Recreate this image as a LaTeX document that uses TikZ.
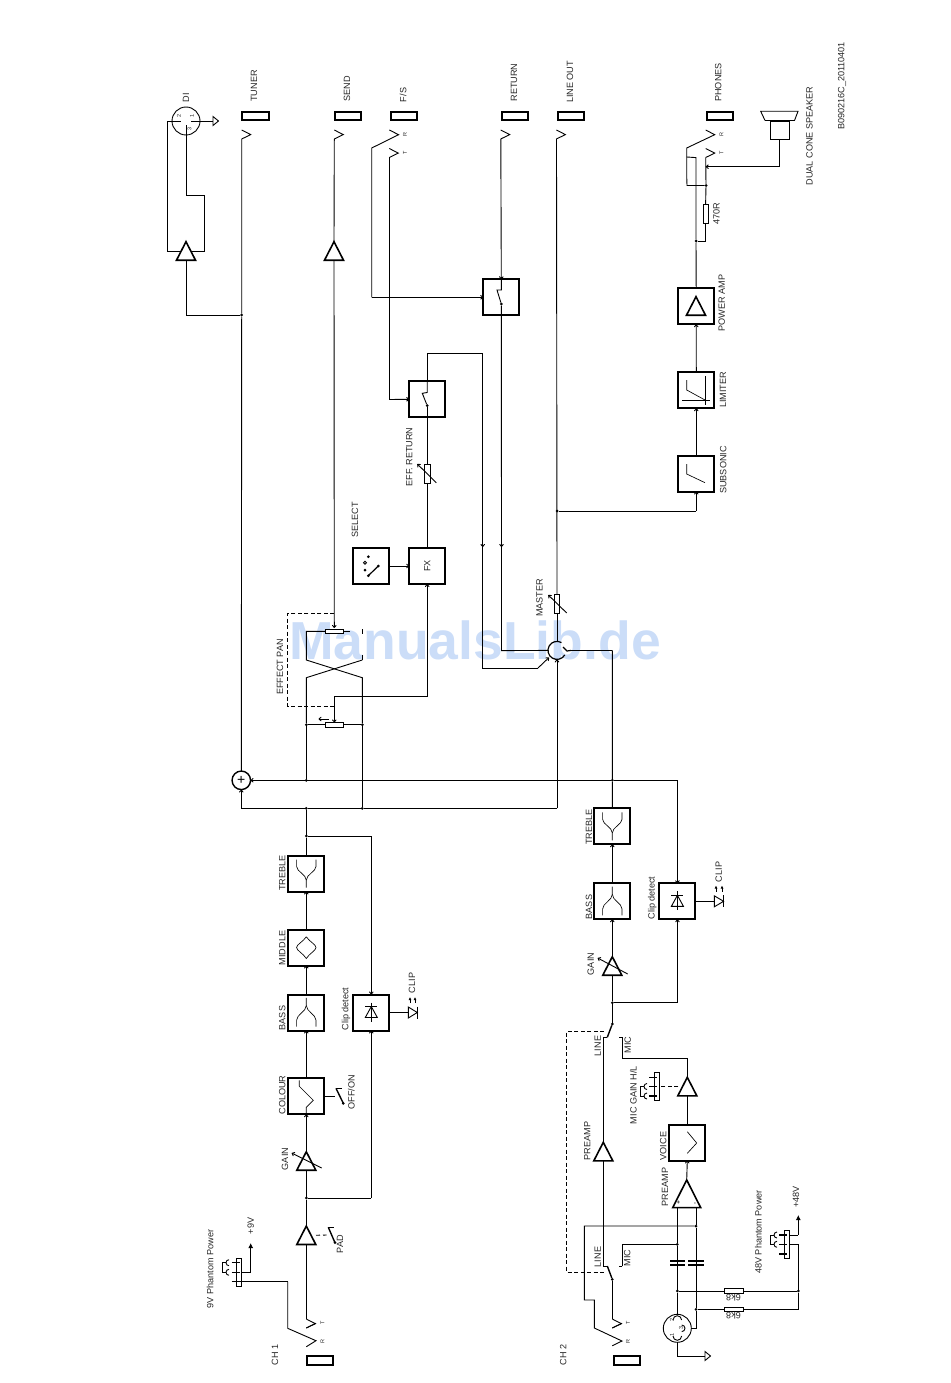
\documentclass[tikz,border=0pt]{standalone}
\usepackage{fontspec}
\setmainfont{Liberation Sans}
\usetikzlibrary{arrows.meta}
\definecolor{markblue}{HTML}{CBDDF8}
\tikzset{
	wire/.style={line width=0.9pt},
	tip/.style={line width=0.9pt, -{To[length=3pt,width=4.5pt]}},
	solid tip/.style={line width=0.9pt, -{Latex[length=5pt,width=5pt]}},
	thin icon/.style={line width=0.65pt},
	lever/.style={line width=1.4pt},
	box/.style={draw, line width=2pt, minimum size=36pt, inner sep=0pt, outer sep=0pt},
	socket/.style={draw, line width=2pt, minimum width=26.5pt, minimum height=8.5pt, inner sep=0pt, outer sep=0pt},
	ampbase/.style={minimum width=19pt, minimum height=18.5pt, inner sep=0pt, outer sep=0pt},
	vpot/.style={draw, line width=0.7pt, fill=white, minimum width=5.4pt, minimum height=19pt, inner sep=0pt, outer sep=0pt},
	hpot/.style={draw, line width=0.7pt, fill=white, minimum width=18.7pt, minimum height=4.6pt, inner sep=0pt, outer sep=0pt},
	strip/.style={draw, line width=0.7pt, fill=white, minimum width=5.2pt, minimum height=27.7pt, inner sep=0pt, outer sep=0pt},
	dot/.style={circle, fill=black, minimum size=3pt, inner sep=0pt, outer sep=0pt},
	ring/.style={circle, draw, line width=1.4pt, minimum size=18.5pt, inner sep=0pt, outer sep=0pt},
	txt/.style={font=\fontsize{9.1}{10}\selectfont, inner sep=0pt, text=black!85},
	lab/.style={txt, rotate=90},
	mini/.style={font=\fontsize{5.5}{6}\selectfont, inner sep=0pt, rotate=90, text=black!85}
}
\newcommand{\ampnode}[3]{
	\node [ampbase] (#1) at (#2,#3+9.25) {};
	\draw [line width=1.6pt, line join=miter] (#1.north) -- (#1.south west) -- (#1.south east) -- cycle;
}
\newcommand{\jack}[2]{
	\draw [wire] (#1,#2) -- (#1+9,#2+4.6) -- (#1,#2+9);
}
\newcommand{\hiicon}[1]{
	\draw [thin icon, shift={(#1.center)}] (-9.7,-14) -- (-9.7,-7) .. controls (-9.7,-2) and (0,1) .. (0,6.7) -- (0,14);
	\draw [thin icon, shift={(#1.center)}] (9.7,-14) -- (9.7,-7) .. controls (9.7,-2) and (0,1) .. (0,6.7);
}
\newcommand{\loicon}[1]{
	\draw [thin icon, shift={(#1.center)}] (0,-14.7) -- (0,-7) .. controls (0,-1) and (-9.7,2) .. (-9.7,7.7) -- (-9.7,14);
	\draw [thin icon, shift={(#1.center)}] (0,-7) .. controls (0,-1) and (9.7,2) .. (9.7,7.7) -- (9.7,14);
}
\newcommand{\diode}[1]{
	\draw [wire, shift={(#1.center)}] (0,-10) -- (0,9);
	\draw [wire, shift={(#1.center)}] (-6,-6) -- (6,-6);
	\draw [wire, shift={(#1.center)}] (0,-6) -- (-6,5) -- (6,5) -- cycle;
}
\newcommand{\hookcup}[2]{
	\draw [wire] (#1+3,#2-3) arc (270:90:3);
}
\begin{document}
\begin{tikzpicture}[x=1pt,y=-1pt]
		\useasboundingbox (0,0) rectangle (950,1383);

		\node [text=markblue, font=\fontsize{53.5}{54}\selectfont\bfseries, inner sep=0pt] (mark) at (475,640) {ManualsLib.de};

		\node [socket] (tuner) at (255.5,116) {};
		\node [socket] (send) at (347.8,116) {};
		\node [socket] (fs) at (403.8,116) {};
		\node [socket] (return) at (515,116) {};
		\node [socket] (lineout) at (571.2,116) {};
		\node [socket] (phones) at (720,116) {};
		\node [socket] (ch1) at (320,1360.3) {};
		\node [socket] (ch2) at (627,1360.3) {};

		\jack{241.7}{130}
		\jack{334.3}{130}
		\jack{389.3}{148.5}
		\jack{500.7}{130}
		\jack{556.4}{130}
		\jack{705.7}{148.5}
		\jack{306.3}{1319}
		\jack{612.3}{1319}

		\node [box] (retsw) at (501.3,297.3) {};
		\node [box] (effsw) at (427.2,399.3) {};
		\node [box] (fx) at (427.2,566) {};
		\node [box] (select) at (371.3,566) {};
		\node [box] (power) at (696.2,306.3) {};
		\node [box] (limiter) at (696.3,390.3) {};
		\node [box] (subsonic) at (696.3,473.6) {};
		\node [box] (trebleone) at (306.3,873.5) {};
		\node [box] (middle) at (306.3,947.5) {};
		\node [box] (bassone) at (306.3,1012.5) {};
		\node [box] (colour) at (306.3,1096.3) {};
		\node [box] (clipone) at (371.3,1012.5) {};
		\node [box] (trebletwo) at (612.3,826.3) {};
		\node [box] (basstwo) at (612.3,901.3) {};
		\node [box] (cliptwo) at (677.4,901.3) {};
		\node [box] (voice) at (687.3,1142.5) {};

		\ampnode{diamp}{186}{241.7}
		\ampnode{sendamp}{334}{241.7}
		\ampnode{poweramp}{696}{296.7}
		\ampnode{gainone}{306.3}{1151.7}
		\ampnode{padamp}{306.3}{1226}
		\ampnode{gaintwo}{612.3}{956.7}
		\ampnode{preline}{603.3}{1142.3}
		\ampnode{micamp}{687.3}{1077.3}
		\node [ampbase, minimum width=28pt, minimum height=27.7pt] (premic) at (686.7,1193.8) {};
		\draw [line width=1.6pt] (premic.north) -- (premic.south west) -- (premic.south east) -- cycle;

		\node [ring] (sum) at (241.3,780.3) {};
		\node [inner sep=0pt, minimum size=18pt, outer sep=0pt] (mix) at (557,650.4) {};
		\node [circle, draw, line width=0.9pt, minimum size=28pt, inner sep=0pt, outer sep=0pt] (di) at (186,121) {};
		\node [circle, draw, line width=0.9pt, minimum size=28pt, inner sep=0pt, outer sep=0pt] (xlr) at (677.3,1328.3) {};

		\node [dot] (taptuner) at (241.7,315) {};
		\node [dot] (tapj) at (696,241) {};
		\node [dot] (tapk) at (706,185.5) {};
		\node [dot] (tapsub) at (557,511) {};
		\node [dot] (tapclip) at (306.3,836) {};
		\node [dot] (tapgain) at (306.3,1198) {};
		\node [dot] (busa) at (306.3,780.3) {};
		\node [dot] (busb) at (612.4,780.3) {};
		\node [dot] (busc) at (306.3,808.3) {};
		\node [dot] (busd) at (362.3,808.3) {};
		\node [dot] (pana) at (306.3,724.7) {};
		\node [dot] (panb) at (362.3,724.7) {};
		\node [dot] (tapclipb) at (612.3,1002.7) {};
		\node [dot] (hot) at (677.3,1244.3) {};
		\node [dot] (cold) at (696,1226) {};
		\node [dot] (feeda) at (677.3,1291) {};
		\node [dot] (feedb) at (696,1309.3) {};
		\node [dot] (feedc) at (798.3,1291) {};
		\node [dot] (swret) at (501.3,304) {};
		\node [dot] (sweff) at (427.2,405.7) {};
		\node [dot] (swgain) at (612.3,1024) {};
		\node [dot] (swin) at (612.3,1279.3) {};

		\node [vpot] (master) at (557,604) {};
		\node [vpot] (effpot) at (427.2,473.8) {};
		\node [vpot] (phpot) at (705.6,213.8) {};
		\node [hpot] (panpot) at (334.3,724.7) {};
		\node [hpot] (pantop) at (334.3,631.3) {};
		\node [hpot] (sixa) at (733.5,1291) {};
		\node [hpot] (sixb) at (733.5,1309.3) {};
		\node [strip] (contone) at (239,1272.2) {};
		\node [strip] (conttwo) at (656.8,1086.5) {};
		\node [strip] (contthree) at (786.8,1244.5) {};

		\draw [wire] (241.7,139) -- (taptuner) -- (sum.north);
		\draw [wire] (taptuner) -- (186,315) -- (diamp.south);
		\draw [wire] (diamp.north) ++(0,9.3) ++(-6,0) -- (167,251) -- (167,121) -- (181,121);
		\draw [wire] (diamp.north) ++(0,9.3) ++(5,0) -- (204,251) -- (204,195) -- (186,195) -- (186,125);
		\draw [wire] (191,121) -- (213,121);
		\draw [wire] (213,116.5) -- (218.5,121) -- (213,125.5) -- cycle;
		\node [mini] (pintwo) at (179,116) {2};
		\node [mini] (pinone) at (192,116) {1};
		\node [mini] (pinthree) at (189.5,129) {3};

		\draw [wire] (334.3,139) -- (sendamp.north);
		\draw [tip] (sendamp.south) -- (334.3,628);

		\draw [wire] (389.3,130) -- (398.6,134.7) -- (371.7,148) -- (371.7,297.3);
		\draw [tip] (371.7,297.3) -- (retsw.west);
		\draw [wire] (389.3,157.5) -- (389.3,399.5);
		\draw [tip] (389.3,399.5) -- (effsw.west);

		\draw [tip] (500.8,139) -- (retsw.north);
		\draw [wire] (retsw.north) -- (501.3,290) -- (497,290) -- (swret);
		\draw [wire] (swret) -- (501.5,547);
		\draw [tip] (501.5,535) -- (501.5,547);
		\draw [wire] (501.5,547) -- (501.5,650.6) -- (mix.west);

		\draw [wire] (effsw.north) -- (427.2,392.5) -- (422.3,393.3) -- (sweff);
		\draw [wire] (effsw.north) -- (427.2,353.3) -- (482.7,353.3) -- (482.7,547);
		\draw [tip] (482.7,535) -- (482.7,547);
		\draw [wire] (482.7,547) -- (482.7,668) -- (538,668);
		\draw [tip] (538,668) -- (549,657.5);

		\draw [wire] (sweff) -- (effpot.north);
		\draw [wire] (effpot.south) -- (fx.north);
		\draw [tip] (436.3,482.7) -- (417.3,464);
		\draw [tip] (select.east) -- (fx.west);
		\draw [tip] (427.2,696.7) -- (fx.south);
		\draw [wire] (334.3,696.7) -- (427.2,696.7);
		\draw [tip] (334.3,696.7) -- (panpot.north);

		\draw [wire] (pana) -- (panpot.west);
		\draw [wire] (panb) -- (panpot.east);
		\draw [tip] (328.5,719) -- (318.5,719);
		\draw [wire] (pantop.west) -- (306.3,631.3) -- (306.3,660) -- (362.3,677.7) -- (panb);
		\draw [wire] (362.3,660) -- (306.3,677.7) -- (pana);
		\draw [wire] (pana) -- (busa);
		\draw [wire] (panb) -- (busd);
		\draw [wire] (362.3,660) -- (362.3,655);
		\draw [wire] (362.3,629) -- (362.3,634);
		\draw [wire] (344,631.3) -- (350,631.3);
		\draw [wire, dashed, dash pattern=on 4pt off 2.5pt] (334.3,613.3) -- (287.7,613.3) -- (287.7,706.3) -- (334.3,706.3);

		\draw [tip] (busb) -- (sum.east);
		\draw [wire] (busa) -- (sum.east);
		\draw [wire] (busb) -- (677.4,780.3);
		\draw [tip] (677.4,780.3) -- (cliptwo.north);
		\draw [wire] (busc) -- (241.3,808.3);
		\draw [tip] (241.3,808.3) -- (sum.south);
		\draw [wire] (busc) -- (busd) -- (557,808.3);
		\draw [tip] (557,808.3) -- (mix.south);
		\draw [wire] (busc) -- (tapclip) -- (trebleone.north);

		\draw [line width=1.2pt, shift={(mix.center)}] (300:9) arc (300:30:9);
		\draw [line width=1.2pt] (563,647) -- (567,651) -- (571,650.4);
		\draw [wire] (571,650.4) -- (612.4,650.4);
		\draw [wire] (556.5,139) -- (master.north);
		\draw [wire] (master.south) -- (mix.north);
		\draw [tip] (566.7,613) -- (548.3,595);
		\draw [wire] (612.4,650.4) -- (busb) -- (trebletwo.north);

		\draw [wire] (tapsub) -- (696.3,511);
		\draw [tip] (696.3,511) -- (subsonic.south);
		\draw [tip] (subsonic.north) -- (limiter.south);
		\draw [tip] (limiter.north) -- (power.south);
		\draw [wire] (power.north) -- (tapj);
		\draw [wire] (tapj) -- (696,157.6) -- (686.7,157);
		\draw [wire] (tapj) -- (705.6,241) -- (phpot.south);
		\draw [wire] (phpot.north) -- (tapk);
		\draw [wire] (tapk) -- (705.7,157.5);
		\draw [wire] (705.7,130) -- (714.7,134.7) -- (686.7,148) -- (686.7,176) -- (687,185.5) -- (tapk);
		\node [draw, wire, minimum width=19pt, minimum height=18.3pt, inner sep=0pt, outer sep=0pt] (coil) at (779.8,130.2) {};
		\draw [line width=1.6pt] (765,120.5) -- (794.5,120.5);
		\draw [wire] (765,120.5) -- (760.7,111.3) -- (798,111.3) -- (794.5,120.5);
		\draw [wire] (coil.south) -- (779.8,166.7);
		\draw [tip] (779.8,166.7) -- (705.7,166.7);

		\draw [thin icon] (686.7,464) -- (686.7,474) -- (705,482.7);
		\draw [thin icon] (686.7,380) -- (686.7,390) -- (705,400);
		\draw [thin icon] (705.7,376) -- (705.7,405);
		\draw [thin icon] (682.3,400) -- (710,400);
		\draw [line width=1.2pt] (368.3,575.7) -- (378.3,566);
		\node [dot] (selone) at (368.3,575.7) {};
		\node [dot] (seltwo) at (378.3,566) {};
		\node [dot] (selthree) at (365,570) {};
		\node [dot, fill=none, draw, wire] (selfour) at (365,562.7) {};
		\node [dot] (selfive) at (368.3,556.7) {};

		\draw [tip] (colour.north) -- (bassone.south);
		\draw [tip] (bassone.north) -- (middle.south);
		\draw [tip] (middle.north) -- (trebleone.south);
		\draw [tip] (gainone.north) -- (colour.south);
		\draw [wire] (tapgain) -- (gainone.south);
		\draw [wire] (padamp.north) -- (tapgain);
		\draw [wire] (tapgain) -- (371.3,1198);
		\draw [tip] (371.3,1198) -- (clipone.south);
		\draw [wire] (tapclip) -- (371.3,836);
		\draw [tip] (371.3,836) -- (clipone.north);
		\draw [wire] (padamp.south) -- (306.3,1319);
		\draw [wire] (306.3,1328) -- (316,1323.3);

		\hiicon{trebleone}
		\loicon{bassone}
		\loicon{basstwo}
		\hiicon{trebletwo}
		\draw [thin icon, shift={(middle.center)}] (0,-10.7) .. controls (-3,-6) and (-9.7,-3) .. (-9.7,0) .. controls (-9.7,3) and (-3,6) .. (0,11) .. controls (3,6) and (9.7,3) .. (9.7,0) .. controls (9.7,-3) and (3,-6) .. (0,-10.7);
		\draw [thin icon, shift={(colour.center)}] (-7,-16) -- (-7,-10) -- (7,4) -- (0,11) -- (0,17);
		\draw [thin icon, shift={(voice.center)}] (0,-10.8) -- (9.4,0.5) -- (0,10.8);
		\diode{clipone}
		\diode{cliptwo}

		\draw [wire] (clipone.east) -- (408.3,1012.5);
		\draw [wire] (408.3,1007) -- (417.3,1012.5) -- (408.3,1018) -- cycle;
		\draw [line width=1.1pt] (417.3,1006.5) -- (417.3,1018.5);
		\draw [solid tip, -{Latex[length=3pt,width=3pt]}] (410,1003) -- (410,997);
		\draw [solid tip, -{Latex[length=3pt,width=3pt]}] (415,1003) -- (415,997);

		\draw [wire] (cliptwo.east) -- (714.3,901.3);
		\draw [wire] (714.3,895.8) -- (723.6,901.3) -- (714.3,906.8) -- cycle;
		\draw [line width=1.1pt] (723.6,895.3) -- (723.6,907.3);
		\draw [solid tip, -{Latex[length=3pt,width=3pt]}] (716,891.7) -- (716,885.5);
		\draw [solid tip, -{Latex[length=3pt,width=3pt]}] (722,891.7) -- (722,885.5);

		\draw [wire] (325,1096) -- (335,1096);
		\draw [lever] (336,1088.3) -- (343.3,1103.3);
		\draw [wire] (336,1088.3) -- (342,1088.3);
		\node [dot] (offon) at (343.3,1103.3) {};

		\draw [wire, dashed, dash pattern=on 4pt off 3pt] (padamp.center) ++(9.7,0) -- (326.7,1235);
		\draw [lever] (328.3,1227.3) -- (335,1242.7);
		\draw [wire] (328.3,1227.3) -- (334.3,1227.3);
		\node [dot] (padsw) at (335,1242.7) {};

		\draw [tip] (321.7,1168) -- (291.7,1153);
		\draw [tip] (627.7,974) -- (597.7,958);

		\draw [wire] (287.7,1281.7) -- (287.7,1328.3) -- (316,1340.7) -- (306.3,1346.7);
		\draw [wire] (287.7,1281.7) -- (232,1281.7);
		\draw [line width=1.3pt] (231.7,1281.7) -- (240,1281.7);
		\draw [line width=1.3pt] (231.7,1262.7) -- (240,1262.7);
		\draw [line width=1.3pt] (231.7,1272.3) -- (240,1272.3);
		\hookcup{226}{1262.7}
		\hookcup{226}{1272.3}
		\draw [wire] (226,1262.7) -- (222.3,1262.7) -- (222.3,1272.3) -- (226,1272.3);
		\draw [wire] (contone.east |- 0,1272.3) -- (250.7,1272.3);
		\draw [solid tip] (250.7,1272.3) -- (250.7,1243);

		\draw [tip] (basstwo.north) -- (trebletwo.south);
		\draw [tip] (gaintwo.north) -- (basstwo.south);
		\draw [wire] (gaintwo.south) -- (tapclipb) -- (swgain);
		\draw [wire] (tapclipb) -- (677.4,1002.7);
		\draw [tip] (677.4,1002.7) -- (cliptwo.south);
		\draw [lever] (swgain) -- (607.3,1037.3);
		\draw [wire] (607.3,1037.3) -- (603.3,1037.3) -- (preline.north);
		\draw [wire] (preline.south) -- (603.3,1266) -- (607.3,1266);
		\draw [lever] (607.3,1266) -- (swin);
		\draw [wire] (swin) -- (612.3,1319);
		\draw [wire] (612.3,1328) -- (622,1323.3);
		\draw [wire] (619.3,1037.3) -- (622.3,1037.3) -- (622.3,1058.3) -- (687.3,1058.3) -- (micamp.north);
		\draw [wire] (micamp.south) -- (voice.north);
		\draw [tip] (premic.north) -- (voice.south);
		\draw [wire, dashed, dash pattern=on 4pt off 2.5pt] (604,1031) -- (566.7,1031) -- (566.7,1272.3) -- (605,1272.3);

		\draw [wire, dashed, dash pattern=on 4pt off 2.5pt] (678.3,1086.5) -- (660,1086.5);
		\draw [line width=1.3pt] (649.3,1077.3) -- (657,1077.3);
		\draw [line width=1.3pt] (649.3,1086.5) -- (657,1086.5);
		\draw [line width=1.3pt] (649.3,1096) -- (657,1096);
		\hookcup{644}{1086.5}
		\hookcup{644}{1096}
		\draw [wire] (644,1086.5) -- (640,1086.5) -- (640,1096) -- (644,1096);

		\draw [wire] (622.3,1266) -- (619.3,1266);
		\draw [wire] (622.3,1266) -- (622.3,1244.3) -- (hot);
		\draw [wire] (cold) -- (584.3,1226) -- (584.3,1300) -- (594.3,1300) -- (594.3,1328) -- (622,1341) -- (612.3,1345.7);
		\draw [wire] (677.3,1207.7) -- (hot) -- (feeda) -- (677.3,1314.3);
		\draw [wire] (696,1207.7) -- (cold) -- (feedb) -- (696,1328.3) -- (xlr.east);
		\draw [line width=1.6pt] (670,1261) -- (685,1261);
		\draw [line width=1.6pt] (670,1264.7) -- (685,1264.7);
		\draw [line width=1.6pt] (688.3,1261) -- (704,1261);
		\draw [line width=1.6pt] (688.3,1264.7) -- (704,1264.7);
		\node [mini, font=\fontsize{6}{6}\selectfont\bfseries, rotate=-90] (plus) at (678.3,1203) {+};
		\node [mini, font=\fontsize{6}{6}\selectfont\bfseries] (minus) at (695.7,1203) {-};
		\draw [wire] (feeda) -- (sixa.west);
		\draw [wire] (sixa.east) -- (feedc);
		\draw [wire] (feedb) -- (sixb.west);
		\draw [wire] (sixb.east) -- (798.3,1309.3) -- (feedc);

		\draw [wire] (673,1320) arc (180:360:4.3);
		\draw [wire] (681.7,1325) arc (270:450:3.3);
		\draw [wire] (673,1336) arc (180:0:4.3);
		\node [mini] (xone) at (672,1335) {1};
		\node [mini] (xtwo) at (672,1320) {2};
		\node [mini] (xthree) at (681,1328.3) {3};
		\draw [wire] (xlr.south) -- (677.3,1356) -- (705,1356);
		\draw [wire] (705,1351.5) -- (710.5,1356) -- (705,1360.5) -- cycle;

		\draw [wire] (feedc) -- (798.3,1244.3) -- (contthree.east |- 0,1244.3);
		\draw [wire] (contthree.east |- 0,1235) -- (798.3,1235);
		\draw [solid tip] (798.3,1235) -- (798.3,1215);
		\draw [line width=1.3pt] (779.3,1235) -- (787,1235);
		\draw [line width=1.3pt] (779.3,1244.3) -- (787,1244.3);
		\draw [line width=1.3pt] (779.3,1254) -- (787,1254);
		\hookcup{774}{1235}
		\hookcup{774}{1244.3}
		\draw [wire] (774,1235) -- (770,1235) -- (770,1244.3) -- (774,1244.3);

		\node [lab] (tunerlab) at (254,86) {TUNER};
		\node [lab] (sendlab) at (347,89) {SEND};
		\node [lab] (fslab) at (403,95) {F/S};
		\node [lab] (returnlab) at (514,82.5) {RETURN};
		\node [lab] (lineoutlab) at (570,82) {LINE OUT};
		\node [lab] (phoneslab) at (718.3,82.5) {PHONES};
		\node [lab] (dilab) at (186,98) {DI};
		\node [lab] (speakerlab) at (809.5,136) {DUAL CONE SPEAKER};
		\node [lab] (codelab) at (842,86) {B090216C\_20110401};
		\node [lab] (rlab) at (716.5,213.5) {470R};
		\node [lab] (powerlab) at (721.7,303) {POWER AMP};
		\node [lab] (limiterlab) at (723,390) {LIMITER};
		\node [lab] (subsoniclab) at (723.3,470) {SUBSONIC};
		\node [lab] (selectlab) at (355,520) {SELECT};
		\node [lab] (fxlab) at (427.2,566) {FX};
		\node [lab] (efflab) at (409.3,457) {EFF. RETURN};
		\node [lab] (masterlab) at (539.5,598) {MASTER};
		\node [lab] (panlab) at (280,667) {EFFECT PAN};
		\node [lab] (trebleonelab) at (282.3,873) {TREBLE};
		\node [lab] (middlelab) at (282.3,948) {MIDDLE};
		\node [lab] (bassonelab) at (282.3,1018) {BASS};
		\node [lab] (colourlab) at (282.3,1095) {COLOUR};
		\node [lab] (clipdetone) at (346,1009) {Clip detect};
		\node [lab] (cliponelab) at (412,983) {CLIP};
		\node [lab] (offonlab) at (351.3,1092) {OFF/ON};
		\node [lab] (gainonelab) at (285,1159) {GAIN};
		\node [lab] (padlab) at (340,1244) {PAD};
		\node [lab] (nineveelab) at (250.7,1226) {+9V};
		\node [lab] (phantomone) at (210,1269) {9V Phantom Power};
		\node [lab] (chonelab) at (275,1355) {CH 1};
		\node [lab] (chtwolab) at (563.3,1355) {CH 2};
		\node [lab] (trebletwolab) at (589,827) {TREBLE};
		\node [lab] (basstwolab) at (589,907) {BASS};
		\node [lab] (clipdettwo) at (652.3,898) {Clip detect};
		\node [lab] (cliptwolab) at (718.7,872) {CLIP};
		\node [lab] (gaintwolab) at (590.7,964) {GAIN};
		\node [lab] (linetop) at (597.7,1046) {LINE};
		\node [lab] (mictop) at (627.7,1045) {MIC};
		\node [lab] (micgainlab) at (633.3,1095) {MIC GAIN H/L};
		\node [lab] (prelinelab) at (587.3,1141) {PREAMP};
		\node [lab] (voicelab) at (663.3,1146) {VOICE};
		\node [lab] (premiclab) at (665,1187) {PREAMP};
		\node [lab] (linebot) at (597.7,1257) {LINE};
		\node [lab] (micbot) at (627.3,1258) {MIC};
		\node [lab] (phantomtwo) at (758.3,1232) {48V Phantom Power};
		\node [lab] (fortyeight) at (796,1197) {+48V};
		\node [txt, rotate=180] (sixalab) at (733.5,1297.5) {6k8};
		\node [txt, rotate=180] (sixblab) at (733.5,1316) {6k8};

		\node [mini] (fsr) at (405,135) {R};
		\node [mini] (fst) at (405,153) {T};
		\node [mini] (phr) at (721.5,135) {R};
		\node [mini] (pht) at (721.5,153) {T};
		\node [mini] (chor) at (322.5,1341) {R};
		\node [mini] (chot) at (322.5,1323) {T};
		\node [mini] (chtr) at (628,1341) {R};
		\node [mini] (chtt) at (628,1323) {T};

		\node [font=\fontsize{14}{14}\selectfont, inner sep=0pt] (sumplus) at (sum) {+};

		\end{tikzpicture}
\end{document}
